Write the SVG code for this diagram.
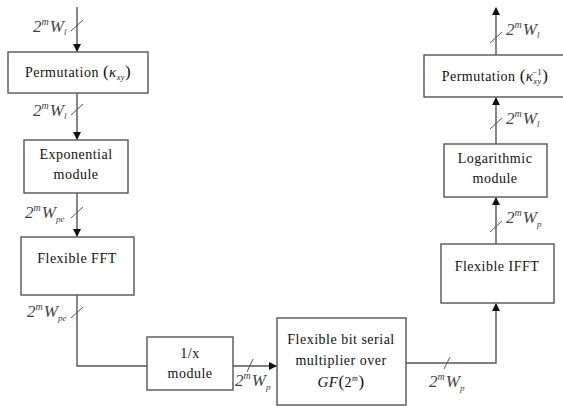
<svg xmlns="http://www.w3.org/2000/svg" width="563" height="406" viewBox="0 0 563 406" font-family="Liberation Serif, Times New Roman, serif">
<defs>
<marker id="ah" markerWidth="8" markerHeight="8" refX="7" refY="4" orient="auto" markerUnits="userSpaceOnUse">
<path d="M0,0 L8,4 L0,8 Z" fill="#111"/>
</marker>
<style>
.box{fill:#fff;stroke:#555;stroke-width:1.4}
.ln{fill:none;stroke:#555;stroke-width:1.4}
.sl{fill:none;stroke:#555;stroke-width:1}
.t{font-size:14px;fill:#111;text-anchor:middle;letter-spacing:0.5px}
.lb{font-size:17px;font-style:italic;fill:#444}
.sup{font-size:10px}
.sub{font-size:9px}
</style>
</defs>
<rect width="563" height="406" fill="#fff"/>
<g id="connectors">
<path class="ln" d="M77,7 V51" marker-end="url(#ah)"/>
<path class="ln" d="M77,93 V139" marker-end="url(#ah)"/>
<path class="ln" d="M77,193 V236" marker-end="url(#ah)"/>
<path class="ln" d="M77,295 V366 H147"/>
<path class="ln" d="M233,366 H276" marker-end="url(#ah)"/>
<path class="ln" d="M406,363 H496 V304" marker-end="url(#ah)"/>
<path class="ln" d="M496,244 V198" marker-end="url(#ah)"/>
<path class="ln" d="M496,144 V98" marker-end="url(#ah)"/>
<path class="ln" d="M496,55 V8" marker-end="url(#ah)"/>
<path class="sl" d="M71,31 L83,20"/>
<path class="sl" d="M71,115 L83,104"/>
<path class="sl" d="M71,218 L83,207"/>
<path class="sl" d="M71,318 L83,307"/>
<path class="sl" d="M247,372 L253,359"/>
<path class="sl" d="M444,369 L450,357"/>
<path class="sl" d="M490,232 L502,221"/>
<path class="sl" d="M490,129 L502,118"/>
<path class="sl" d="M490,43 L502,32"/>
<text class="lb" x="33" y="32">2<tspan class="sup" dy="-7">m</tspan><tspan dx="1" dy="7">W</tspan><tspan class="sub" dy="3">l</tspan></text>
<text class="lb" x="33" y="116">2<tspan class="sup" dy="-7">m</tspan><tspan dx="1" dy="7">W</tspan><tspan class="sub" dy="3">l</tspan></text>
<text class="lb" x="25" y="218">2<tspan class="sup" dy="-7">m</tspan><tspan dx="1" dy="7">W</tspan><tspan class="sub" dy="4">pe</tspan></text>
<text class="lb" x="27" y="317">2<tspan class="sup" dy="-7">m</tspan><tspan dx="1" dy="7">W</tspan><tspan class="sub" dy="4">pe</tspan></text>
<text class="lb" x="235" y="386">2<tspan class="sup" dy="-7">m</tspan><tspan dx="1" dy="7">W</tspan><tspan class="sub" dy="4">p</tspan></text>
<text class="lb" x="429" y="387">2<tspan class="sup" dy="-7">m</tspan><tspan dx="1" dy="7">W</tspan><tspan class="sub" dy="4">p</tspan></text>
<text class="lb" x="506" y="223">2<tspan class="sup" dy="-7">m</tspan><tspan dx="1" dy="7">W</tspan><tspan class="sub" dy="4">p</tspan></text>
<text class="lb" x="506" y="124">2<tspan class="sup" dy="-7">m</tspan><tspan dx="1" dy="7">W</tspan><tspan class="sub" dy="3">l</tspan></text>
<text class="lb" x="506" y="35">2<tspan class="sup" dy="-7">m</tspan><tspan dx="1" dy="7">W</tspan><tspan class="sub" dy="3">l</tspan></text>
</g>
<g id="perm">
<rect class="box" x="8" y="52" width="140" height="41"/>
<text class="t" x="78" y="77">Permutation <tspan font-size="17">(</tspan><tspan font-style="italic" font-size="15">κ</tspan><tspan font-style="italic" font-size="8" dy="3">xy</tspan><tspan font-size="17" dy="-3">)</tspan></text>
</g>
<g id="exp">
<rect class="box" x="24" y="140" width="104" height="53"/>
<text class="t" x="76" y="159">Exponential</text>
<text class="t" x="76" y="179">module</text>
</g>
<g id="fft">
<rect class="box" x="21" y="237" width="113" height="58"/>
<text class="t" x="77" y="263">Flexible FFT</text>
</g>
<g id="inv">
<rect class="box" x="147" y="337" width="86" height="53"/>
<text class="t" x="190" y="358">1/x</text>
<text class="t" x="190" y="378">module</text>
</g>
<g id="mult">
<rect class="box" x="277" y="318" width="129" height="87"/>
<text class="t" x="341" y="344">Flexible bit serial</text>
<text class="t" x="341" y="365">multiplier over</text>
<text class="t" x="341" y="387"><tspan font-style="italic" font-size="15">GF</tspan><tspan font-size="17">(</tspan>2<tspan font-size="8" font-style="italic" dy="-6">m</tspan><tspan font-size="17" dy="6">)</tspan></text>
</g>
<g id="ifft">
<rect class="box" x="441" y="244" width="113" height="59"/>
<text class="t" x="497" y="271">Flexible IFFT</text>
</g>
<g id="log">
<rect class="box" x="444" y="144" width="103" height="53"/>
<text class="t" x="495" y="163">Logarithmic</text>
<text class="t" x="495" y="183">module</text>
</g>
<g id="perminv">
<rect class="box" x="424" y="55" width="145" height="42"/>
<text class="t" x="495" y="81">Permutation <tspan font-size="17">(</tspan><tspan font-style="italic" font-size="15">κ</tspan><tspan font-style="italic" font-size="8" dy="3">xy</tspan><tspan font-size="8" dx="-9" dy="-9">−1</tspan><tspan font-size="17" dy="6">)</tspan></text>
</g>
</svg>
